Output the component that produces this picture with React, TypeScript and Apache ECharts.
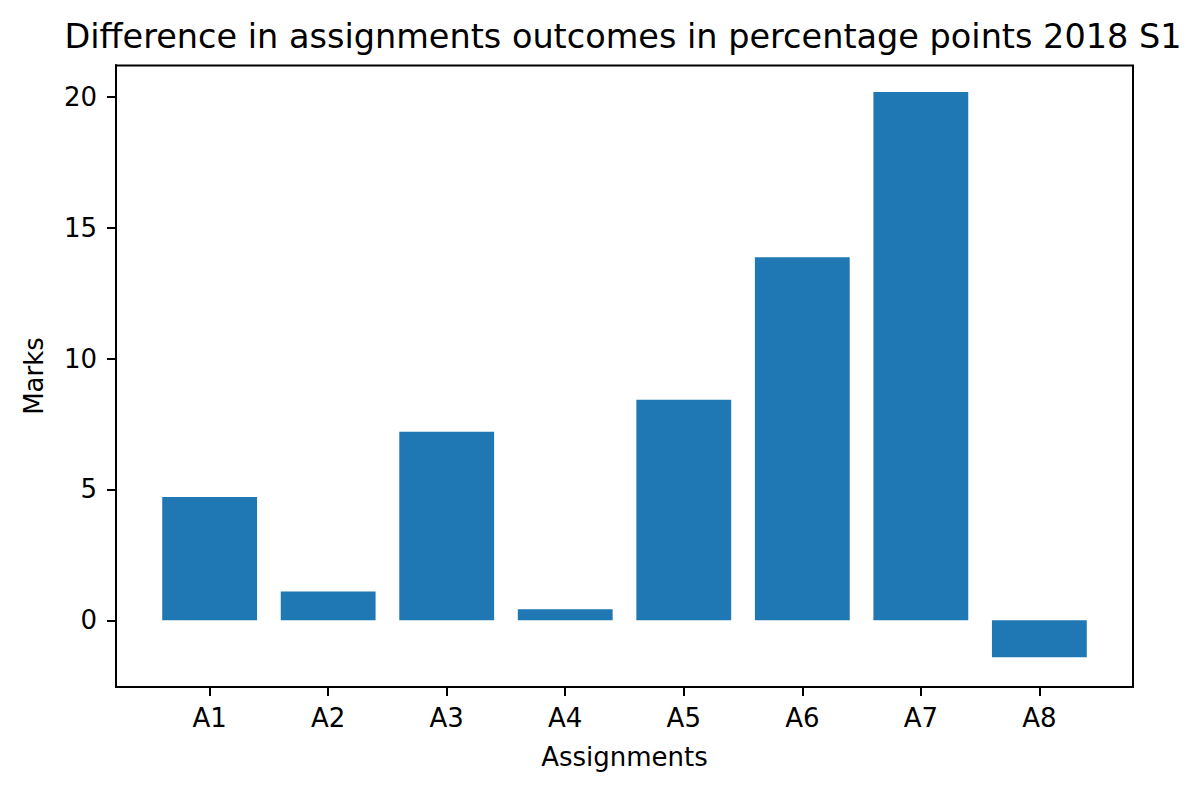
import React, { useEffect, useRef } from "react";
import * as echarts from "echarts";

const categories = ["A1", "A2", "A3", "A4", "A5", "A6", "A7", "A8"];
const values = [4.71, 1.1, 7.2, 0.42, 8.43, 13.87, 20.19, -1.41];
const yTicks = [0, 5, 10, 15, 20];
const titleText = "Difference in assignments outcomes in percentage points 2018 S1";
const xName = "Assignments";
const yName = "Marks";

const FONT = "DejaVu Sans";

export default function App() {
  const ref = useRef<HTMLDivElement>(null);
  useEffect(() => {
    if (!ref.current) return;
    const chart = echarts.init(ref.current, undefined, { renderer: "svg" });
    const n = categories.length;
    // matplotlib-like margins: bars span -0.4..n-0.6, 5% margin
    const xLo = -0.4, xHi = n - 1 + 0.4;
    const xPad = (xHi - xLo) * 0.05;
    const xIdx = categories.map((_, i) => i);
    const axisLine = { show: true, onZero: false, lineStyle: { color: "#000", width: 2 } };
    chart.setOption({
      animation: false,
      backgroundColor: "#fff",
      grid: { left: 116, right: 67, top: 65, bottom: 106, containLabel: false },
      graphic: [
        {
          type: "rect",
          shape: { x: 116, y: 65.5, width: 1017, height: 621.5 },
          style: { fill: "none", stroke: "#000", lineWidth: 2 },
          z: 10,
        },
        {
          type: "text",
          x: 623,
          y: 36,
          style: {
            text: titleText,
            fontFamily: FONT,
            fontSize: 33.5,
            fill: "#000",
            align: "center",
            verticalAlign: "middle",
          },
        },
      ],
      xAxis: {
        type: "value",
        min: xLo - xPad,
        max: xHi + xPad,
        name: xName,
        nameLocation: "middle",
        nameGap: 57,
        nameTextStyle: { fontFamily: FONT, fontSize: 26, color: "#000" },
        splitLine: { show: false },
        axisLine,
        axisTick: { show: true, length: 9, lineStyle: { color: "#000", width: 2 }, customValues: xIdx },
        axisLabel: {
          customValues: xIdx,
          margin: 18,
          fontFamily: FONT,
          fontSize: 26,
          color: "#000",
          formatter: (v: number) => categories[Math.round(v)] ?? "",
        },
      },
      yAxis: {
        type: "value",
        min: -2.55,
        max: 21.22,
        name: yName,
        nameLocation: "middle",
        nameGap: 69,
        nameTextStyle: { fontFamily: FONT, fontSize: 26, color: "#000" },
        splitLine: { show: false },
        axisLine,
        axisTick: { show: true, length: 9, lineStyle: { color: "#000", width: 2 }, customValues: yTicks },
        axisLabel: {
          customValues: yTicks,
          margin: 19,
          fontFamily: FONT,
          fontSize: 26,
          color: "#000",
        },
      },
      series: [
        {
          type: "bar",
          barWidth: "80%",
          data: values.map((v, i) => [i, v]),
          itemStyle: { color: "#1f77b4" },
        },
      ],
    });
    return () => chart.dispose();
  }, []);
  return (
    <div
      ref={ref}
      style={{ position: "absolute", left: 0, top: 0, width: 1200, height: 793 }}
    />
  );
}
